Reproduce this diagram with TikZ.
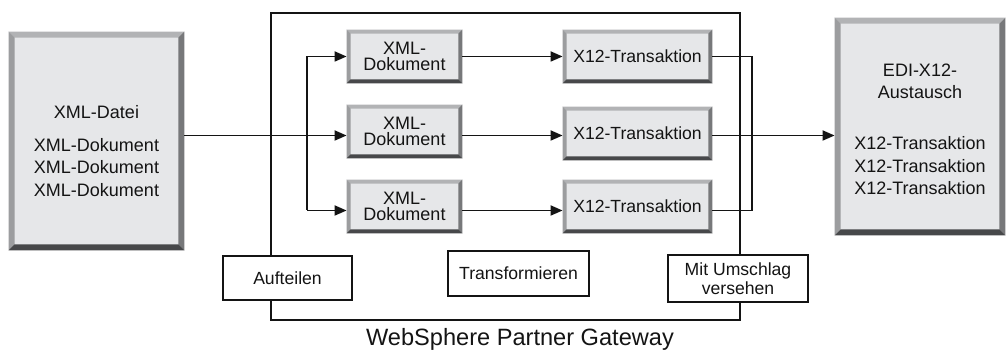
\documentclass[tikz,border=0pt]{standalone}
\usepackage{fontspec}
\setmainfont{Liberation Sans}
\usetikzlibrary{arrows.meta,calc}

\definecolor{face}{HTML}{E6E7E9}
\definecolor{bvtopc}{HTML}{B2B3B5}
\definecolor{bvleftc}{HTML}{9C9D9F}
\definecolor{bvrightc}{HTML}{77787A}
\definecolor{bvbotc}{HTML}{47484A}
\definecolor{ink}{HTML}{141414}

% bevelled frame around a named rectangular node
\newcommand{\bevelframe}[2]{%
  \fill[bvtopc] (#1.north west) -- (#1.north east) -- ([shift={(-#2,-#2)}]#1.north east) -- ([shift={(#2,-#2)}]#1.north west) -- cycle;
  \fill[bvleftc] (#1.north west) -- ([shift={(#2,-#2)}]#1.north west) -- ([shift={(#2,#2)}]#1.south west) -- (#1.south west) -- cycle;
  \fill[bvrightc] (#1.north east) -- (#1.south east) -- ([shift={(-#2,#2)}]#1.south east) -- ([shift={(-#2,-#2)}]#1.north east) -- cycle;
  \fill[bvbotc] (#1.south west) -- ([shift={(#2,#2)}]#1.south west) -- ([shift={(-#2,#2)}]#1.south east) -- (#1.south east) -- cycle;
}

\tikzset{
  boxbase/.style={rectangle, fill=face, inner sep=0pt, align=center, text=ink},
  docbox/.style={boxbase, minimum width=57.5pt, minimum height=26.5pt,
    font=\fontsize{9}{8.4}\selectfont},
  txbox/.style={boxbase, minimum width=74.5pt, minimum height=26.5pt,
    font=\fontsize{8.8}{10}\selectfont},
  stagebox/.style={rectangle, draw=ink, line width=0.9pt, fill=white, inner sep=0pt,
    align=center, text=ink, font=\fontsize{8.8}{9.5}\selectfont},
  boxtext/.style={align=center, inner sep=0pt, text=ink, font=\fontsize{9}{11.25}\selectfont},
  conn/.style={draw=ink, line width=0.9pt},
  arr/.style={conn, -{Triangle[length=6pt,width=5pt]}},
}

\begin{document}
\begin{tikzpicture}[x=0.5pt, y=-0.5pt]
\useasboundingbox (0,0) rectangle (1007,356);

% gateway frame
\draw[draw=ink, line width=0.9pt] (271,13) rectangle (740,320);
\node[font=\fontsize{11.8}{14}\selectfont, text=ink] (gwlabel) at (520,339) {WebSphere Partner Gateway};

% stage labels sitting on the frame
\node[stagebox, minimum width=64.5pt, minimum height=22pt] (split) at (287.5,278) {Aufteilen};
\node[stagebox, minimum width=70.5pt, minimum height=22.5pt] (transform) at (518.5,273.5) {Transformieren};
\node[stagebox, minimum width=70pt, minimum height=23.5pt] (envelope) at (738,278.5) {Mit Umschlag\\versehen};

% source file
\node[boxbase, minimum width=87.5pt, minimum height=109pt] (xmlfile) at (96.5,141) {};
\bevelframe{xmlfile}{3pt}
\node[boxtext] (xmlfiletxt) at (96.5,151) {XML-Datei\\[5pt]XML-Dokument\\XML-Dokument\\XML-Dokument};

% target interchange
\node[boxbase, minimum width=85pt, minimum height=108.5pt] (edi) at (920,126.5) {};
\bevelframe{edi}{3pt}
\node[boxtext] (editxt) at (920,129.5) {EDI-X12-\\Austausch\\[14.25pt]X12-Transaktion\\X12-Transaktion\\X12-Transaktion};

% split documents
\node[docbox] (doc1) at (404.5,56.5) {XML-\\Dokument};
\node[docbox] (doc2) at (404.5,131.5) {XML-\\Dokument};
\node[docbox] (doc3) at (404.5,206.5) {XML-\\Dokument};
\bevelframe{doc1}{2pt}
\bevelframe{doc2}{2pt}
\bevelframe{doc3}{2pt}

% transformed transactions
\node[txbox] (tx1) at (637.5,56.5) {X12-Transaktion};
\node[txbox] (tx2) at (637.5,133.5) {X12-Transaktion};
\node[txbox] (tx3) at (637.5,206.5) {X12-Transaktion};
\bevelframe{tx1}{2pt}
\bevelframe{tx2}{2pt}
\bevelframe{tx3}{2pt}

% routing points
\coordinate (fork) at (307,0);
\coordinate (join) at (752,0);
\coordinate (row2) at ($(doc2.west)+(0,4)$);
\coordinate (row3) at ($(doc3.west)+(0,4)$);

% splitting
\draw[arr] (xmlfile.east |- row2) -- (row2);
\draw[conn] (fork |- doc1.west) -- (fork |- row3);
\draw[arr] (fork |- doc1.west) -- (doc1.west);
\draw[arr] (fork |- row3) -- (row3);

% transforming
\draw[arr] (doc1.east) -- (tx1.west);
\draw[arr] (doc2.east |- row2) -- (tx2.west |- row2);
\draw[arr] (doc3.east |- row3) -- (tx3.west |- row3);

% enveloping
\draw[conn] (tx1.east) -- (join |- tx1.east) -- (join |- row3) -- (tx3.east |- row3);
\draw[arr] (tx2.east |- row2) -- (edi.west |- row2);
\end{tikzpicture}
\end{document}
